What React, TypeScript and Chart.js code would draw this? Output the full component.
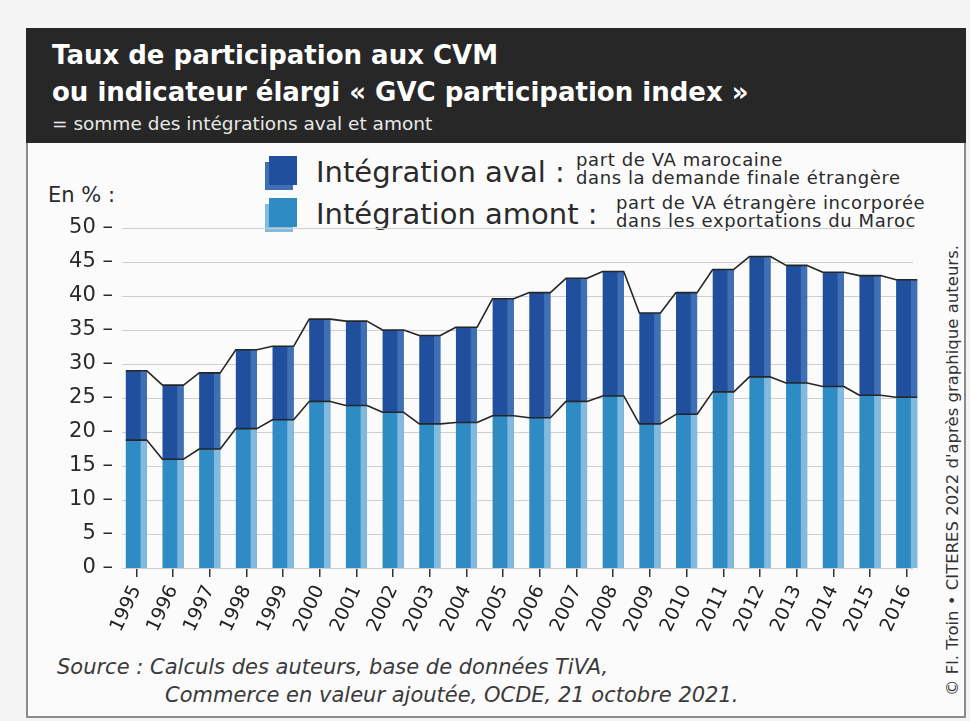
import React, { useEffect, useRef } from "react";
import { Chart, registerables } from "chart.js";
Chart.register(...registerables);

const years = ["1995","1996","1997","1998","1999","2000","2001","2002","2003","2004","2005","2006","2007","2008","2009","2010","2011","2012","2013","2014","2015","2016"];
const amont = [18.8,16.0,17.5,20.5,21.8,24.5,23.9,22.9,21.2,21.4,22.4,22.1,24.5,25.3,21.2,22.6,25.9,28.1,27.2,26.7,25.4,25.1];
const aval = [10.2,10.9,11.2,11.6,10.8,12.1,12.4,12.1,13.0,14.0,17.2,18.4,18.1,18.3,16.3,17.9,18.0,17.7,17.3,16.8,17.6,17.3];
const yTicks = [0,5,10,15,20,25,30,35,40,45,50];

const FONT = "'DejaVu Sans', sans-serif";
const C_AVAL = "#1f4f9d";
const C_AVAL_STRIP = "#3f6fb5";
const C_AMONT = "#2f8bc3";
const C_AMONT_STRIP = "#82badf";

const decorPlugin = {
  id: "decor",
  beforeDatasetsDraw(chart: any) {
    const { ctx, chartArea } = chart;
    const y = chart.scales.y;
    ctx.save();
    ctx.strokeStyle = "#cfcfcf";
    ctx.lineWidth = 1;
    yTicks.forEach((v) => {
      const py = Math.round(y.getPixelForValue(v)) + 0.5;
      ctx.beginPath();
      ctx.moveTo(chartArea.left + 4, py);
      ctx.lineTo(chartArea.right - 12, py);
      ctx.stroke();
    });
    ctx.restore();
  },
  afterDatasetsDraw(chart: any) {
    const { ctx } = chart;
    const strips = [C_AMONT_STRIP, C_AVAL_STRIP];
    ctx.save();
    [0, 1].forEach((di) => {
      const meta = chart.getDatasetMeta(di);
      meta.data.forEach((el: any) => {
        const p = el.getProps(["x", "y", "base", "width"], true);
        const sw = p.width * 0.3;
        ctx.fillStyle = strips[di];
        ctx.fillRect(p.x + p.width / 2 - sw, p.y, sw, p.base - p.y);
      });
    });
    ctx.strokeStyle = "#262626";
    ctx.lineWidth = 1.6;
    ctx.lineJoin = "round";
    [0, 1].forEach((di) => {
      const meta = chart.getDatasetMeta(di);
      ctx.beginPath();
      meta.data.forEach((el: any, i: number) => {
        const p = el.getProps(["x", "y", "width"], true);
        if (i === 0) ctx.moveTo(p.x - p.width / 2, p.y);
        else ctx.lineTo(p.x - p.width / 2, p.y);
        ctx.lineTo(p.x + p.width / 2, p.y);
      });
      ctx.stroke();
    });
    ctx.restore();
  },
};

function Swatch({ front, back, top }: { front: string; back: string; top: number }) {
  return (
    <>
      <div style={{ position: "absolute", left: 265, top: top + 6, width: 28, height: 28, background: back }} />
      <div style={{ position: "absolute", left: 269, top: top, width: 28, height: 29, background: front }} />
    </>
  );
}

export default function App() {
  const ref = useRef<HTMLCanvasElement>(null);
  useEffect(() => {
    if (!ref.current) return;
    const chart = new Chart(ref.current, {
      type: "bar",
      data: {
        labels: years,
        datasets: [
          { label: "Intégration amont", data: amont, backgroundColor: C_AMONT, borderWidth: 0 },
          { label: "Intégration aval", data: aval, backgroundColor: C_AVAL, borderWidth: 0 },
        ],
      },
      options: {
        animation: false,
        responsive: false,
        devicePixelRatio: 1,
        layout: { padding: { top: 78, right: 15, left: 0, bottom: 0 } },
        datasets: { bar: { categoryPercentage: 1, barPercentage: 0.575 } },
        plugins: { legend: { display: false }, tooltip: { enabled: false } },
        scales: {
          x: {
            stacked: true,
            afterFit: (s: any) => { s.height = 82; },
            border: { display: false },
            grid: { display: true, drawOnChartArea: false, drawTicks: true, tickLength: 9, offset: false, color: "#333", lineWidth: 1.5 },
            ticks: { minRotation: 65, maxRotation: 65, autoSkip: false, padding: 5, color: "#222", font: { family: FONT, size: 19 } },
          },
          y: {
            stacked: true,
            min: 0,
            max: 50,
            afterFit: (s: any) => { s.width = 88; },
            border: { display: false },
            grid: { display: false, drawTicks: false },
            ticks: { stepSize: 5, padding: 5, color: "#2a2a2a", font: { family: FONT, size: 21 }, callback: (v: any) => `${v} –` },
          },
        },
      },
      plugins: [decorPlugin],
    } as any);
    return () => chart.destroy();
  }, []);

  return (
    <div style={{ position: "absolute", left: 0, top: 0, width: 970, height: 721, background: "#f4f4f4", fontFamily: FONT, overflow: "hidden" }}>
      <div style={{ position: "absolute", left: 26, top: 28, width: 940, height: 690, border: "2px solid #8c8c8c", boxSizing: "border-box", background: "#fbfbfb" }} />
      <div style={{ position: "absolute", left: 26, top: 28, width: 940, height: 115, background: "#272727" }} />
      <div style={{ position: "absolute", left: 52, top: 37, color: "#fff", fontWeight: "bold", fontSize: 26, lineHeight: "37px", whiteSpace: "nowrap" }}>
        Taux de participation aux CVM<br />ou indicateur élargi « GVC participation index »
      </div>
      <div style={{ position: "absolute", left: 52, top: 113, color: "#e8e8e8", fontSize: 18.5, whiteSpace: "nowrap" }}>
        = somme des intégrations aval et amont
      </div>

      <Swatch front={C_AVAL} back={C_AVAL_STRIP} top={156} />
      <Swatch front={C_AMONT} back={C_AMONT_STRIP} top={198} />
      <div style={{ position: "absolute", left: 316, top: 155, fontSize: 29, color: "#2a2a2a", whiteSpace: "nowrap" }}>Intégration aval :</div>
      <div style={{ position: "absolute", left: 316, top: 197, fontSize: 29, color: "#2a2a2a", whiteSpace: "nowrap" }}>Intégration amont :</div>
      <div style={{ position: "absolute", left: 576, top: 151, fontSize: 18, letterSpacing: 0.6, lineHeight: "18px", color: "#2a2a2a", whiteSpace: "nowrap" }}>
        part de VA marocaine<br />dans la demande finale étrangère
      </div>
      <div style={{ position: "absolute", left: 616, top: 194, fontSize: 18, letterSpacing: 0.6, lineHeight: "18px", color: "#2a2a2a", whiteSpace: "nowrap" }}>
        part de VA étrangère incorporée<br />dans les exportations du Maroc
      </div>
      <div style={{ position: "absolute", left: 48, top: 183, fontSize: 21, color: "#2a2a2a", whiteSpace: "nowrap" }}>En % :</div>

      <canvas ref={ref} width={910} height={500} style={{ position: "absolute", left: 30, top: 150, width: 910, height: 500 }} />

      <div style={{ position: "absolute", left: 57, top: 653, fontSize: 21, fontStyle: "italic", color: "#3a3a3a", lineHeight: "28px", whiteSpace: "nowrap" }}>
        Source : Calculs des auteurs, base de données TiVA,<br />
        <span style={{ paddingLeft: 108 }}>Commerce en valeur ajoutée, OCDE, 21 octobre 2021.</span>
      </div>
      <div style={{ position: "absolute", left: 943, top: 696, transform: "rotate(-90deg)", transformOrigin: "0 0", fontSize: 16.5, color: "#333", whiteSpace: "nowrap", lineHeight: "20px" }}>
        © Fl. Troin • CITERES 2022 d'après graphique auteurs.
      </div>
    </div>
  );
}
